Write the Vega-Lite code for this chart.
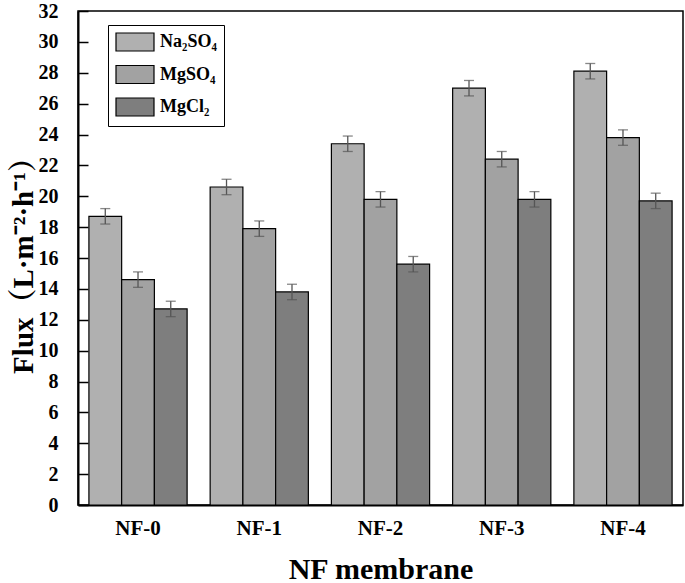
{
  "$schema": "https://vega.github.io/schema/vega-lite/v6.json",
  "width": 605,
  "height": 494,
  "autosize": {"type": "none"},
  "padding": {"left": 78, "top": 11, "right": 2, "bottom": 78},
  "background": "white",
  "config": {
    "view": {"stroke": "black", "strokeWidth": 1.5},
    "font": "Liberation Serif",
    "axisY": {
      "tickCount": 16,
      "labelOverlap": false,
      "grid": false,
      "tickSize": -10,
      "tickWidth": 1.5,
      "tickColor": "black",
      "domainColor": "black",
      "domainWidth": 2,
      "labelFont": "Liberation Serif",
      "labelFontWeight": "bold",
      "labelFontSize": 20,
      "labelColor": "black",
      "labelPadding": 30,
      "titleFont": "Liberation Serif, Noto Serif CJK SC, Noto Sans CJK SC",
      "titleFontWeight": "bold",
      "titleFontSize": 29,
      "titleColor": "black",
      "titlePadding": 0
    }
  },
  "data": {
    "values": [
      {"membrane": "NF-0", "salt": "Na₂SO₄", "flux": 18.7, "lo": 18.2, "hi": 19.2},
      {"membrane": "NF-0", "salt": "MgSO₄", "flux": 14.6, "lo": 14.1, "hi": 15.1},
      {"membrane": "NF-0", "salt": "MgCl₂", "flux": 12.7, "lo": 12.2, "hi": 13.2},
      {"membrane": "NF-1", "salt": "Na₂SO₄", "flux": 20.6, "lo": 20.1, "hi": 21.1},
      {"membrane": "NF-1", "salt": "MgSO₄", "flux": 17.9, "lo": 17.4, "hi": 18.4},
      {"membrane": "NF-1", "salt": "MgCl₂", "flux": 13.8, "lo": 13.3, "hi": 14.3},
      {"membrane": "NF-2", "salt": "Na₂SO₄", "flux": 23.4, "lo": 22.9, "hi": 23.9},
      {"membrane": "NF-2", "salt": "MgSO₄", "flux": 19.8, "lo": 19.3, "hi": 20.3},
      {"membrane": "NF-2", "salt": "MgCl₂", "flux": 15.6, "lo": 15.1, "hi": 16.1},
      {"membrane": "NF-3", "salt": "Na₂SO₄", "flux": 27.0, "lo": 26.5, "hi": 27.5},
      {"membrane": "NF-3", "salt": "MgSO₄", "flux": 22.4, "lo": 21.9, "hi": 22.9},
      {"membrane": "NF-3", "salt": "MgCl₂", "flux": 19.8, "lo": 19.3, "hi": 20.3},
      {"membrane": "NF-4", "salt": "Na₂SO₄", "flux": 28.1, "lo": 27.6, "hi": 28.6},
      {"membrane": "NF-4", "salt": "MgSO₄", "flux": 23.8, "lo": 23.3, "hi": 24.3},
      {"membrane": "NF-4", "salt": "MgCl₂", "flux": 19.7, "lo": 19.2, "hi": 20.2}
    ]
  },
  "encoding": {
    "x": {
      "field": "membrane",
      "type": "nominal",
      "scale": {"paddingInner": 0.19, "paddingOuter": 0.09},
      "title": "NF membrane",
      "axis": {
        "ticks": false,
        "labelAngle": 0,
        "labelFont": "Liberation Serif",
        "labelFontWeight": "bold",
        "labelFontSize": 21,
        "labelColor": "black",
        "labelPadding": 12,
        "domainColor": "black",
        "domainWidth": 2,
        "titleFont": "Liberation Serif",
        "titleFontWeight": "bold",
        "titleFontSize": 30,
        "titleColor": "black",
        "titlePadding": 16
      }
    },
    "xOffset": {"field": "salt", "type": "nominal", "sort": ["Na₂SO₄", "MgSO₄", "MgCl₂"]}
  },
  "layer": [
    {
      "mark": {"type": "bar", "stroke": "black", "strokeWidth": 1.2, "opacity": 1},
      "encoding": {
        "y": {
          "field": "flux",
          "type": "quantitative",
          "scale": {"domain": [0, 32], "nice": false},
          "title": "Flux（L·m⁻²·h⁻¹）"
        },
        "fill": {
          "field": "salt",
          "type": "nominal",
          "sort": ["Na₂SO₄", "MgSO₄", "MgCl₂"],
          "scale": {"range": ["#b0b0b0", "#a2a2a2", "#7e7e7e"]},
          "legend": {
            "title": null,
            "orient": "none",
            "legendX": 30,
            "legendY": 14,
            "strokeColor": "black",
            "padding": 7,
            "symbolType": "M-1,-1H3.222V1H-1Z",
            "symbolSize": 324,
            "symbolStrokeColor": "black",
            "symbolStrokeWidth": 1.2,
            "symbolOpacity": 1,
            "labelFont": "Liberation Serif",
            "labelFontWeight": "bold",
            "labelFontSize": 18,
            "labelColor": "black",
            "labelOffset": 25,
            "rowPadding": 8.5
          }
        }
      }
    },
    {
      "mark": {"type": "rule", "color": "#555555", "strokeWidth": 1.3},
      "encoding": {
        "y": {"field": "lo", "type": "quantitative", "title": "Flux（L·m⁻²·h⁻¹）"},
        "y2": {"field": "hi"}
      }
    },
    {
      "mark": {"type": "tick", "color": "#555555", "thickness": 1.3, "size": 10},
      "encoding": {"y": {"field": "hi", "type": "quantitative", "title": "Flux（L·m⁻²·h⁻¹）"}}
    },
    {
      "mark": {"type": "tick", "color": "#555555", "thickness": 1.3, "size": 10},
      "encoding": {"y": {"field": "lo", "type": "quantitative", "title": "Flux（L·m⁻²·h⁻¹）"}}
    }
  ]
}
